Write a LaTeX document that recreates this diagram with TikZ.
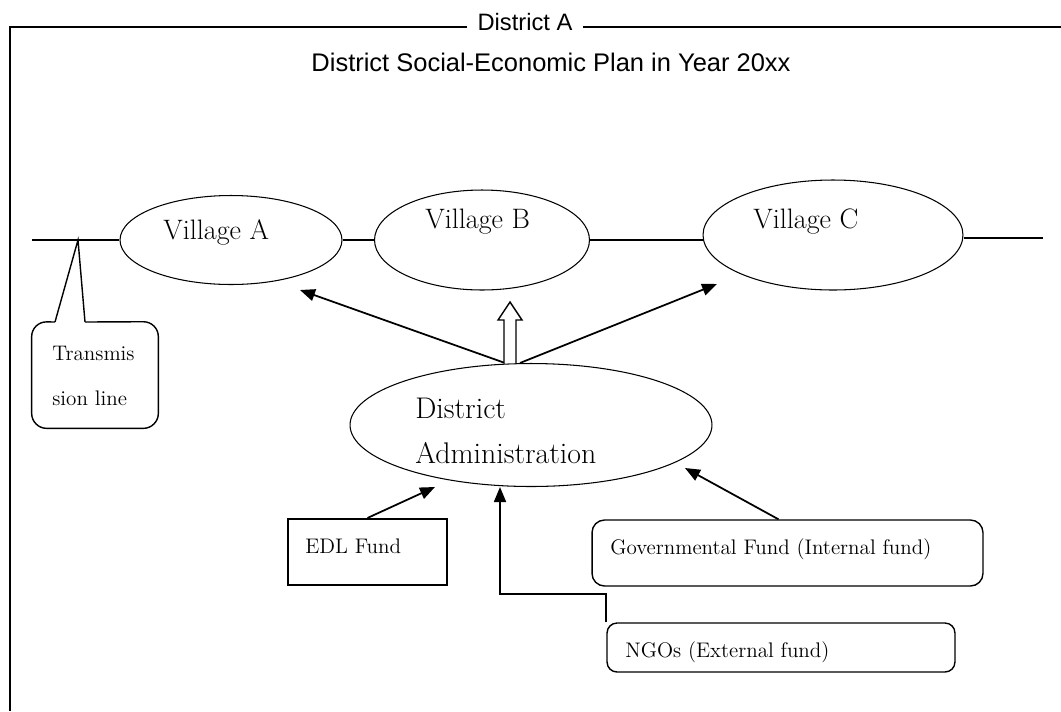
\documentclass[tikz,border=0pt]{standalone}
\usepackage{fontspec}
\newfontfamily\headfont{Liberation Sans}
\usetikzlibrary{shapes.geometric, arrows.meta}

\begin{document}
\begin{tikzpicture}[x=0.02cm, y=-0.02cm,
  village/.style={draw, ellipse, line width=0.6pt, inner sep=0pt},
  bigtext/.style={anchor=west, inner sep=0pt, font=\fontsize{16}{19}\selectfont},
  smalltext/.style={anchor=west, inner sep=0pt, font=\fontsize{12}{14}\selectfont},
  fundbox/.style={draw, rounded corners=0.25cm, line width=0.8pt, inner sep=0pt},
  headtext/.style={inner sep=0pt, font=\headfont\fontsize{13.5}{16}\selectfont},
  fundarrow/.style={line width=1pt, arrows={-Triangle[length=0.3cm, width=0.24cm]}}]
  \useasboundingbox (0, 0) rectangle (1061, 711);
  % district frame with its name in the gap
  \node [headtext] (district) at (525, 22) {District A};
  \node [headtext, font=\headfont\fontsize{14.5}{17}\selectfont] (title) at (551, 62) {District Social-Economic Plan in Year 20xx};
  \draw [line width=1.2pt] (district.west) ++(-10, 5) -- (10, 27) -- (10, 711);
  \draw [line width=1.2pt] (district.east) ++(10, 5) -- (1061, 27);
  % villages on the transmission line
  \node [village, minimum width=4.44cm, minimum height=1.78cm] (VA) at (231, 240) {};
  \node [village, minimum width=4.3cm, minimum height=2.0cm] (VB) at (482, 240) {};
  \node [village, minimum width=5.2cm, minimum height=2.2cm] (VC) at (833, 235) {};
  \node [bigtext] (VAtext) at (163, 232) {Village A};
  \node [bigtext] (VBtext) at (425, 222) {Village B};
  \node [bigtext] (VCtext) at (753, 222) {Village C};
  \coordinate (lineL) at (32, 240);
  \coordinate (tap) at (78, 240);
  \coordinate (lineR) at (1043, 238);
  \draw [line width=0.6pt] (lineL) -- (VA.west);
  \draw [line width=0.6pt] (VA.east) -- (VB.west);
  \draw [line width=0.6pt] (VB.east) -- (VB.east -| VC.west);
  \draw [line width=0.6pt] (VC.east |- lineR) -- (lineR);
  % callout for the line
  \node [minimum width=2.52cm, minimum height=2.12cm, inner sep=0pt] (callout) at (95, 375) {};
  \draw [line width=0.8pt, rounded corners=0.3cm] (55, 322) -- (callout.north west)
    -- (callout.south west) -- (callout.south east) -- (callout.north east) -- (85, 322);
  \draw [line width=0.8pt] (55, 322) -- (tap) -- (85, 322);
  \node [smalltext] (calltext1) at (52, 353) {Transmis};
  \node [smalltext] (calltext2) at (52, 398) {sion line};
  % district administration
  \node [village, minimum width=7.24cm, minimum height=2.46cm] (DA) at (531, 425) {};
  \node [bigtext, font=\fontsize{17}{20}\selectfont] (DAtext1) at (415, 408) {District};
  \node [bigtext, font=\fontsize{17}{20}\selectfont] (DAtext2) at (415, 453) {Administration};
  \coordinate (tipA) at (300, 290);
  \coordinate (tipC) at (717, 284);
  \draw [fundarrow] ([xshift=-0.52cm]DA.north) -- (tipA);
  \draw [fundarrow] ([xshift=-0.22cm]DA.north) -- (tipC);
  % hollow arrow up to village B
  \draw [line width=0.8pt, fill=white] (504, 363) -- (504, 320) -- (498, 320) -- (510, 302)
    -- (522, 320) -- (516, 320) -- (516, 363);
  % funds
  \node [draw, line width=1.2pt, minimum width=3.18cm, minimum height=1.32cm, inner sep=0pt] (EDL) at (367.5, 552) {};
  \node [smalltext] (EDLtext) at (305, 546) {EDL Fund};
  \node [fundbox, minimum width=7.82cm, minimum height=1.32cm] (GOV) at (787.5, 553) {};
  \node [smalltext] (GOVtext) at (610, 549) {Governmental Fund (Internal fund)};
  \node [fundbox, rounded corners=0.2cm, minimum width=6.96cm, minimum height=0.98cm] (NGO) at (781, 647.5) {};
  \node [smalltext] (NGOtext) at (625, 652) {NGOs (External fund)};
  \coordinate (tipEDL) at (435, 487);
  \coordinate (tipGOV) at (685, 468);
  \coordinate (tipNGO) at (500, 487);
  \draw [fundarrow] (EDL.north) -- (tipEDL);
  \draw [fundarrow] ([xshift=-0.18cm]GOV.north) -- (tipGOV);
  \draw [fundarrow] (NGO.north west) -- ++(0, -28) -| (tipNGO);
\end{tikzpicture}
\end{document}
